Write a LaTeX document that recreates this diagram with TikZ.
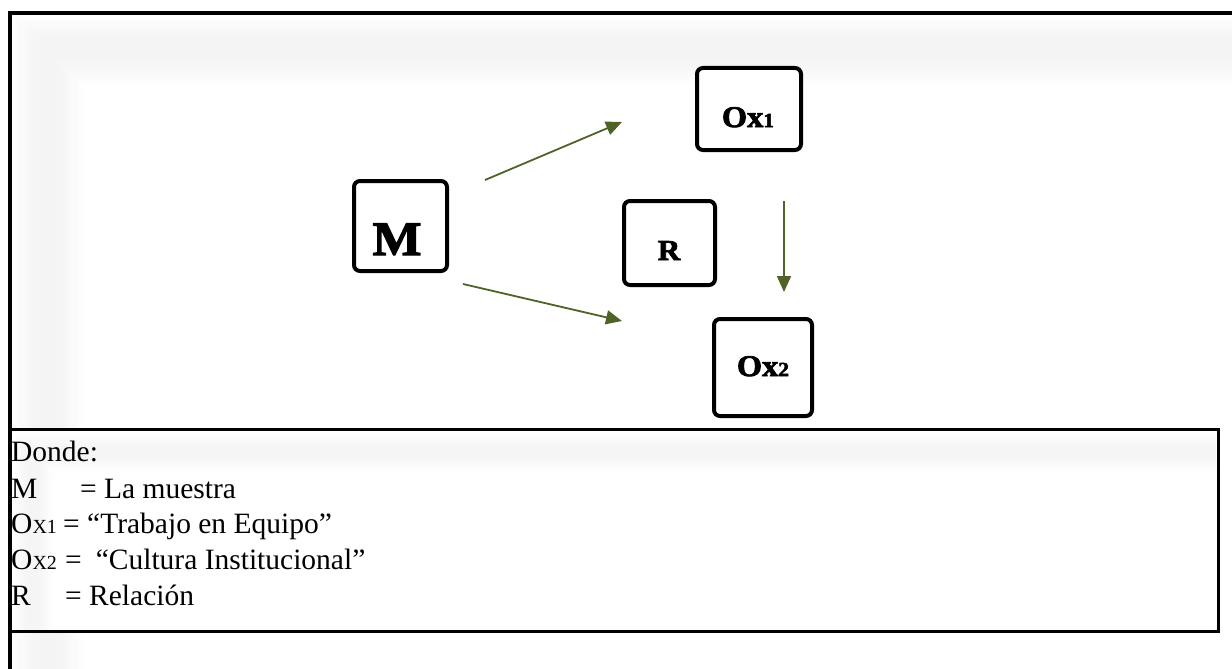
\documentclass[tikz,border=0pt]{standalone}
\usepackage{fontspec}
\setmainfont{Liberation Serif}
\newfontfamily\heavyfont[FakeBold=2.5,FakeStretch=1.08]{Liberation Serif Bold}
\usetikzlibrary{arrows.meta}
\definecolor{arrowgreen}{RGB}{79,98,40}
\tikzset{
  boxnode/.style={draw, line width=4pt, rounded corners=6pt, fill=white, inner sep=0pt},
  boxtext/.style={anchor=base, inner sep=0pt},
  legline/.style={anchor=base west, inner sep=0pt, font=\fontsize{29.5}{29.5}\selectfont},
  conn/.style={draw=arrowgreen, line width=1.8pt, -{Triangle[length=16pt,width=14pt]}, fill=arrowgreen}
}
\newcommand{\smallx}[1]{{\fontsize{20}{20}\selectfont #1}}
\begin{document}
\begin{tikzpicture}[x=1pt,y=-1pt]
\useasboundingbox (0,0) rectangle (1232,669);
% soft inner shadow of the frame
\foreach \i in {0,...,23} {
  \pgfmathsetmacro{\c}{4.5*sin(180*(\i+0.5)/24)}
  \draw[line width=3.2pt, color=black!\c, line join=round] (13.5+3*\i,669) -- (13.5+3*\i,15.5+3*\i) -- (1232,15.5+3*\i);
}
% outer frame
\draw[line width=4pt] (1232,13) -- (10,13) -- (10,669);
% legend box
\draw[line width=3pt, fill=white] (10,429) rectangle (1218,631);
\begin{scope}
\clip (12,431) rectangle (1216,629);
\foreach \i in {0,...,13} {
  \pgfmathsetmacro{\c}{4*sin(180*(\i+0.5)/14)}
  \draw[line width=3.2pt, color=black!\c, line join=round] (13.5+3*\i,669) -- (13.5+3*\i,432.5+3*\i) -- (1232,432.5+3*\i);
}
\end{scope}
\draw[line width=4pt] (10,13) -- (10,669);

% boxes
\node[boxnode, minimum width=93pt, minimum height=90pt] (M) at (400.5,226) {};
\node[boxnode, minimum width=104pt, minimum height=82pt] (Ox1) at (749,109) {};
\node[boxnode, minimum width=91pt, minimum height=84pt] (R) at (669.5,243) {};
\node[boxnode, minimum width=98pt, minimum height=97pt] (Ox2) at (763,367.5) {};

\node[boxtext, font=\heavyfont\fontsize{48}{48}\selectfont] (Mt) at (397,255) {M};
\node[boxtext, font=\heavyfont\fontsize{30}{30}\selectfont] (Ox1t) at (748,127) {Ox{\fontsize{20}{20}\selectfont 1}};
\node[boxtext, font=\heavyfont\fontsize{29}{29}\selectfont] (Rt) at (669,260) {R};
\node[boxtext, font=\heavyfont\fontsize{30}{30}\selectfont] (Ox2t) at (763,376) {Ox{\fontsize{20}{20}\selectfont 2}};

% connectors
\coordinate (a1s) at (485,180); \coordinate (a1e) at (622,122);
\coordinate (a2s) at (463,284); \coordinate (a2e) at (622,321);
\coordinate (a3s) at (784,201); \coordinate (a3e) at (784,292);
\draw[conn] (a1s) -- (a1e);
\draw[conn] (a2s) -- (a2e);
\draw[conn] (a3s) -- (a3e);

% legend
\node[legline] (l0) at (11,461) {Donde:};
\node[legline] (l1) at (11,498) {\makebox[69pt][l]{M}= La muestra};
\node[legline] (l2) at (11,533) {\makebox[52pt][l]{O\smallx{X1}}= “Trabajo en Equipo”};
\node[legline] (l3) at (11,569) {\makebox[54pt][l]{O\smallx{X2}}=\hspace{14pt}“Cultura Institucional”};
\node[legline] (l4) at (11,605) {\makebox[54pt][l]{R}= Relación};
\end{tikzpicture}
\end{document}
